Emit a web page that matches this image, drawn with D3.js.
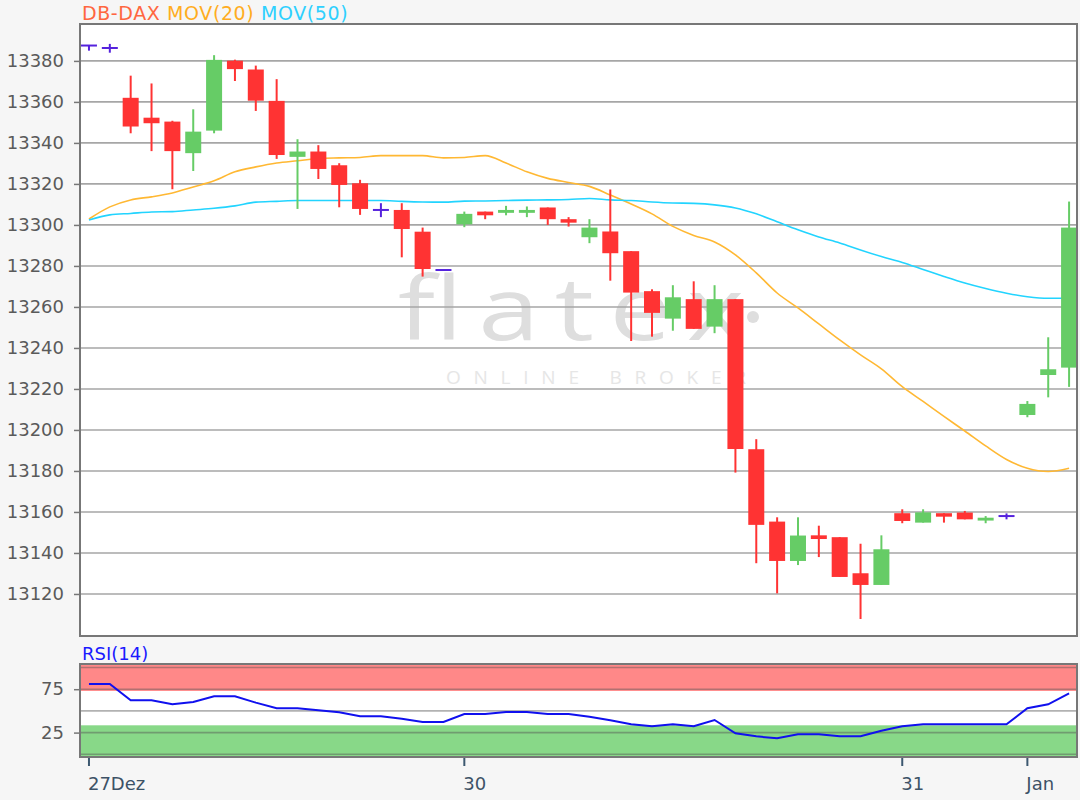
<!DOCTYPE html>
<html>
<head>
<meta charset="utf-8">
<script src="https://cdn.jsdelivr.net/npm/d3@7/dist/d3.min.js"></script>
<style>
  body { margin: 0; background: #f6f6f6; }
  svg { display: block; font-family: "DejaVu Sans", Verdana, sans-serif; }
</style>
</head>
<body>
<svg id="chart" width="1080" height="800"></svg>
<script>
// DB-DAX candles, 48 periods from 27 Dez to 2 Jan
const opens  = [13387.5,13386.3,13362,13352.3,13350.4,13335,13346,13380.1,13375.8,13360.5,
                13333.2,13335.8,13329.1,13320.3,13307.3,13307.3,13296.7,13278,13300.3,13306.5,
                13305.9,13305.9,13308.5,13302.8,13294,13296.8,13287.2,13267.7,13254.3,13263.8,
                13250.4,13263.8,13190.6,13155.3,13136.1,13148.6,13147.7,13130.1,13124.4,13159.4,
                13154.8,13159.4,13159.7,13155.8,13158,13207.3,13226.8,13230.4];
const highs  = [13387.5,13388.3,13372.8,13369,13350.8,13356.4,13382.8,13380.6,13377.7,13371.1,
                13341.8,13338.9,13330.1,13322,13310.6,13310.6,13298.7,13278,13306.5,13306.5,
                13309.3,13309,13308.5,13303.8,13302.8,13317.3,13287.2,13268.6,13270.6,13272.5,
                13270.6,13263.8,13195.5,13157.4,13157.4,13153.3,13147.7,13144.5,13148.6,13161.3,
                13161.3,13159.4,13160.5,13158,13159.3,13214.1,13245.2,13311.4];
const lows   = [13385,13384,13344.7,13336,13317.4,13326.3,13344.7,13370.2,13355.6,13332.2,
                13307.8,13322.4,13308.6,13304.9,13303.8,13284.2,13274.8,13278,13298.9,13302.8,
                13304.7,13303.8,13300,13299.2,13291.1,13272.8,13243.4,13245.5,13248.4,13249.3,
                13247.2,13179.2,13135,13120.3,13134.1,13138,13128.3,13107.8,13124.4,13154.5,
                13154.8,13154.8,13156.4,13154.5,13156.4,13206.2,13215.9,13221];
const closes = [13387.5,13386.3,13348,13349.6,13336,13345.5,13380.5,13376,13360.6,13334.1,
                13335.8,13327.3,13319.5,13307.8,13307.3,13298,13278.5,13278,13305.4,13304.7,
                13307.3,13307.3,13302.8,13301.1,13298.7,13286.2,13267,13257.1,13264.7,13249.3,
                13263.8,13190.7,13153.7,13136.1,13148.5,13146.8,13128.3,13124.4,13141.8,13155.6,
                13159.8,13157.7,13156.4,13157.2,13158,13212.7,13229.6,13298.7];

// moving averages
const mov20 = [13302.9,13308.8,13312.2,13313.7,13315.6,13318.5,13321.5,13325.9,13328.3,13330.2,
               13331.3,13332.4,13332.7,13332.9,13333.8,13333.8,13333.8,13332.7,13332.9,13333.8,
               13330.2,13325.9,13322.7,13320.7,13318.8,13314.6,13310.2,13305.4,13299.3,13294.9,
               13291.7,13285.4,13276.6,13266.8,13259.5,13251.7,13243.9,13236.6,13229.8,13221.1,
               13213.9,13206.6,13199.5,13192.2,13185.6,13181.3,13179.7,13181.3];
const mov50 = [13302.4,13304.9,13305.6,13306.3,13306.5,13307.3,13308.1,13309.3,13311.1,13311.5,
               13311.9,13311.9,13311.9,13311.9,13311.9,13311.5,13311.2,13311.1,13311.6,13311.7,
               13311.9,13312.1,13312.2,13312.4,13312.9,13312.2,13311.9,13311.2,13310.7,13310.5,
               13309.8,13308.3,13305.4,13301.5,13297.6,13294.1,13291.2,13287.8,13284.6,13281.7,
               13278.3,13274.9,13271.7,13269,13266.7,13265,13264.2,13264.2];

// RSI(14)
const rsi = [81,81,62.2,62.2,57.6,60.3,66.8,66.8,59.5,53,
             53,50.7,48.4,43.8,43.8,41,37.2,37.2,46.4,46.4,
             48.7,48.7,46.4,46.4,43.3,39.2,34.6,32.3,34.6,32.3,
             39.5,24.2,20.7,18.4,23,23,20.7,20.7,27.2,32.3,
             34.6,34.6,34.6,34.6,34.6,53,57.6,70.3];

// axis ticks
const priceTicks = [13120,13140,13160,13180,13200,13220,13240,13260,13280,13300,13320,13340,13360,13380];
const rsiTicks = [75, 25];
const rsiGrid = [100, 75, 50, 25, 0];
const dateTickIdx = [0, 18, 39, 45];
const dateTickLabels = ["27Dez", "30", "31", "Jan"];

const candles = opens.map((o, i) => ({ i: i, o: o, h: highs[i], l: lows[i], c: closes[i] }));

// layout
const main = { left: 80, right: 1077, top: 24, bottom: 636 };
const sub  = { left: 80, right: 1077, top: 664, bottom: 757 };

const svg = d3.select("#chart");

const x = d3.scaleLinear().domain([-0.43, 47.38]).range([main.left, main.right]);
const y = d3.scaleLinear().domain([13099.5, 13398]).range([main.bottom, main.top]);
const yR = d3.scaleLinear().domain([0, 100]).range([754.3, 667.5]);

// ---------- main panel ----------
svg.append("rect")
  .attr("x", main.left).attr("y", main.top)
  .attr("width", main.right - main.left).attr("height", main.bottom - main.top)
  .attr("fill", "#fff");

// watermark
svg.append("text")
  .attr("transform", "translate(398,340) scale(1.25,1)")
  .attr("textLength", 277).attr("lengthAdjust", "spacing")
  .style("font-family", "'Open Sans', sans-serif")
  .style("font-weight", 400)
  .style("font-size", "88px")
  .attr("fill", "#dedede")
  .text("flatex");
svg.append("circle").attr("cx", 753).attr("cy", 317).attr("r", 6).attr("fill", "#dedede");
svg.append("text")
  .attr("x", 446).attr("y", 384)
  .attr("textLength", 300).attr("lengthAdjust", "spacing")
  .style("font-family", "'Open Sans', sans-serif")
  .style("font-size", "19px")
  .attr("fill", "#e6e6e6")
  .text("ONLINE BROKER");

// horizontal grid
svg.append("g").selectAll("line")
  .data(priceTicks)
  .enter().append("line")
    .attr("x1", main.left).attr("x2", main.right)
    .attr("y1", d => y(d)).attr("y2", d => y(d))
    .attr("stroke", "#a6a6a6").attr("stroke-width", 1.6);

// y axis
const yAxis = svg.append("g")
  .attr("transform", "translate(" + main.left + ",0)")
  .call(d3.axisLeft(y).tickValues(priceTicks).tickSize(6).tickPadding(10).tickFormat(d3.format("d")));
yAxis.select(".domain").remove();
yAxis.selectAll("line").attr("stroke", "#777").attr("stroke-width", 1.5);
yAxis.selectAll("text").attr("fill", "#5a5a5a").style("font-size", "18px")
  .style("font-family", "'DejaVu Sans', Verdana, sans-serif");

// moving averages
const maLine = d3.line().x((d, i) => x(i)).y(d => y(d)).curve(d3.curveMonotoneX);
svg.append("path").datum(mov20)
  .attr("d", maLine).attr("fill", "none")
  .attr("stroke", "#ffb833").attr("stroke-width", 1.6);
svg.append("path").datum(mov50)
  .attr("d", maLine).attr("fill", "none")
  .attr("stroke", "#22d4ff").attr("stroke-width", 1.6);

// candles
const colorOf = d => d.o === d.c ? "#5522dd" : (d.c > d.o ? "#66cc66" : "#ff3333");
const bodyW = 16;
const cg = svg.append("g").selectAll("g")
  .data(candles)
  .enter().append("g");

cg.filter(d => d.h !== d.l)
  .append("line")
    .attr("x1", d => x(d.i)).attr("x2", d => x(d.i))
    .attr("y1", d => y(d.h)).attr("y2", d => y(d.l))
    .attr("stroke", colorOf).attr("stroke-width", 2);

cg.filter(d => d.o !== d.c)
  .append("rect")
    .attr("x", d => x(d.i) - bodyW / 2)
    .attr("width", bodyW)
    .attr("y", d => y(Math.max(d.o, d.c)))
    .attr("height", d => Math.max(2, y(Math.min(d.o, d.c)) - y(Math.max(d.o, d.c))))
    .attr("fill", colorOf);

cg.filter(d => d.o === d.c)
  .append("line")
    .attr("x1", d => x(d.i) - bodyW / 2).attr("x2", d => x(d.i) + bodyW / 2)
    .attr("y1", d => y(d.o)).attr("y2", d => y(d.o))
    .attr("stroke", colorOf).attr("stroke-width", 2);

// border
svg.append("rect")
  .attr("x", main.left).attr("y", main.top)
  .attr("width", main.right - main.left).attr("height", main.bottom - main.top)
  .attr("fill", "none").attr("stroke", "#777").attr("stroke-width", 2);

// legend
const legend = svg.append("text")
  .attr("x", 82).attr("y", 20)
  .style("font-size", "19px")
  .style("letter-spacing", "0.6px");
legend.append("tspan").attr("fill", "#ff6640").text("DB-DAX ");
legend.append("tspan").attr("fill", "#ffad1f").text("MOV(20) ");
legend.append("tspan").attr("fill", "#2ed0ff").text("MOV(50)");

// ---------- RSI panel ----------
svg.append("rect")
  .attr("x", sub.left).attr("y", sub.top)
  .attr("width", sub.right - sub.left).attr("height", sub.bottom - sub.top)
  .attr("fill", "#fff");

// overbought / oversold bands
svg.append("rect")
  .attr("x", sub.left).attr("width", sub.right - sub.left)
  .attr("y", sub.top).attr("height", yR(73) - sub.top)
  .attr("fill", "#ff8888");
svg.append("rect")
  .attr("x", sub.left).attr("width", sub.right - sub.left)
  .attr("y", yR(33.4)).attr("height", sub.bottom - yR(33.4))
  .attr("fill", "#88d888");

svg.append("g").selectAll("line")
  .data(rsiGrid)
  .enter().append("line")
    .attr("x1", sub.left).attr("x2", sub.right)
    .attr("y1", d => yR(d)).attr("y2", d => yR(d))
    .attr("stroke", "#555").attr("stroke-opacity", 0.45).attr("stroke-width", 1.6);

const rAxis = svg.append("g")
  .attr("transform", "translate(" + sub.left + ",0)")
  .call(d3.axisLeft(yR).tickValues(rsiTicks).tickSize(6).tickPadding(10));
rAxis.select(".domain").remove();
rAxis.selectAll("line").attr("stroke", "#777").attr("stroke-width", 1.5);
rAxis.selectAll("text").attr("fill", "#5a5a5a").style("font-size", "18px")
  .style("font-family", "'DejaVu Sans', Verdana, sans-serif");

svg.append("path").datum(rsi)
  .attr("d", d3.line().x((d, i) => x(i)).y(d => yR(d)))
  .attr("fill", "none")
  .attr("stroke", "#1010ee").attr("stroke-width", 2);

svg.append("rect")
  .attr("x", sub.left).attr("y", sub.top)
  .attr("width", sub.right - sub.left).attr("height", sub.bottom - sub.top)
  .attr("fill", "none").attr("stroke", "#777").attr("stroke-width", 2);

svg.append("text")
  .attr("x", 82).attr("y", 660)
  .attr("fill", "#1a1aff")
  .style("font-size", "18px")
  .text("RSI(14)");

// date axis
const xAxis = svg.append("g");
xAxis.selectAll("line")
  .data(dateTickIdx)
  .enter().append("line")
    .attr("x1", d => x(d)).attr("x2", d => x(d))
    .attr("y1", sub.bottom + 1).attr("y2", sub.bottom + 9)
    .attr("stroke", "#3d5870").attr("stroke-width", 2);
xAxis.selectAll("text")
  .data(dateTickIdx)
  .enter().append("text")
    .attr("x", d => x(d) - 1)
    .attr("y", 790)
    .attr("fill", "#3d5266")
    .style("font-size", "18px")
    .text((d, i) => dateTickLabels[i]);
</script>
</body>
</html>
